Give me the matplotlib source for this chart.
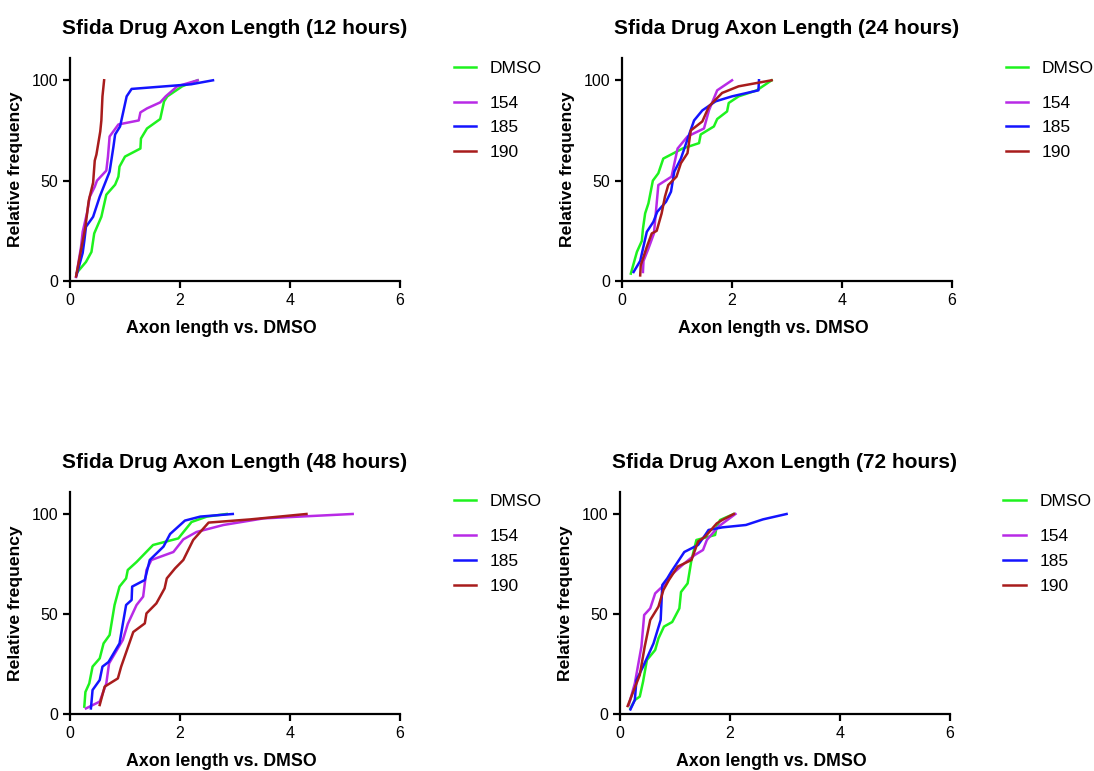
import matplotlib
matplotlib.use("Agg")
import matplotlib.pyplot as plt

plt.rcParams['font.family'] = ['Liberation Sans', 'DejaVu Sans']

titles = ["Sfida Drug Axon Length (12 hours)", "Sfida Drug Axon Length (24 hours)",
          "Sfida Drug Axon Length (48 hours)", "Sfida Drug Axon Length (72 hours)"]
names = ["DMSO", "154", "185", "190"]
colors = ["#1ef21e", "#b82ae6", "#1414ff", "#a81c1c"]

# 12 hours
x12_dmso = [0.12, 0.29, 0.39, 0.44, 0.57, 0.66, 0.82, 0.88, 0.90, 1.00, 1.28, 1.29, 1.40, 1.64, 1.71, 1.77, 2.04, 2.32]
y12_dmso = [4, 9.5, 14.5, 23.7, 32, 43, 48, 52, 57, 62, 66, 71, 76, 80.7, 89.5, 92, 97, 100]
x12_154 = [0.11, 0.20, 0.23, 0.31, 0.36, 0.45, 0.49, 0.66, 0.69, 0.72, 0.88, 1.25, 1.28, 1.40, 1.64, 1.74, 1.95, 2.32]
y12_154 = [2, 17, 24.5, 34, 42, 47, 50, 55, 62, 72, 78, 80, 84, 86, 89, 92, 97, 100]
x12_185 = [0.12, 0.23, 0.26, 0.29, 0.42, 0.54, 0.72, 0.79, 0.82, 0.91, 1.03, 1.12, 2.20, 2.60]
y12_185 = [3, 14, 20, 27, 32, 42, 54.5, 67, 73, 77, 92, 95.7, 98, 100]
x12_190 = [0.11, 0.28, 0.34, 0.42, 0.45, 0.48, 0.55, 0.57, 0.59, 0.62]
y12_190 = [2.3, 27, 40, 49, 60, 63, 74.5, 80, 92, 100]

# 24 hours
x24_dmso = [0.16, 0.27, 0.36, 0.38, 0.42, 0.48, 0.56, 0.66, 0.75, 1.10, 1.40, 1.43, 1.67, 1.73, 1.91, 1.94, 2.12, 2.45, 2.72]
y24_dmso = [3.7, 14.5, 20, 26, 33.7, 38.7, 50, 53.7, 61, 66, 68.7, 73, 77, 80.7, 84.5, 88.7, 92, 95, 100]
x24_154 = [0.38, 0.39, 0.48, 0.58, 0.66, 0.90, 1.01, 1.19, 1.49, 1.58, 1.73, 2.00]
y24_154 = [4.5, 10, 16.2, 23.7, 47.8, 52, 66, 72, 76, 85, 95, 100]
x24_185 = [0.21, 0.33, 0.45, 0.57, 0.64, 0.80, 0.89, 0.95, 1.07, 1.22, 1.31, 1.46, 1.70, 2.00, 2.48, 2.49]
y24_185 = [4.5, 10, 24.5, 29.5, 34.5, 39.5, 44.5, 54.5, 61, 73, 80, 85, 89.5, 92, 95, 100]
x24_190 = [0.33, 0.34, 0.45, 0.54, 0.63, 0.72, 0.78, 0.84, 0.99, 1.07, 1.19, 1.25, 1.46, 1.58, 1.82, 2.12, 2.72]
y24_190 = [2.8, 7.8, 17, 23.7, 25, 33.7, 42, 47.8, 52, 58.7, 63.7, 75, 79.5, 87, 93.7, 97, 100]

# 48 hours
x48_dmso = [0.26, 0.28, 0.35, 0.41, 0.54, 0.61, 0.72, 0.81, 0.90, 1.02, 1.05, 1.21, 1.51, 1.97, 2.21, 2.49, 2.85]
y48_dmso = [3.7, 11, 15.3, 23.7, 27.8, 35.3, 39.5, 54.5, 63.7, 67.8, 72, 76, 84.5, 87.8, 96, 98.7, 100]
x48_154 = [0.29, 0.54, 0.66, 0.71, 0.87, 0.96, 1.05, 1.21, 1.33, 1.39, 1.48, 1.88, 2.06, 2.30, 2.79, 3.52, 5.14]
y48_154 = [2.8, 6.2, 15.3, 25.3, 32.8, 37, 45, 54.5, 58.7, 72, 77, 81, 87.3, 91, 94.5, 97.8, 100]
x48_185 = [0.38, 0.41, 0.54, 0.59, 0.70, 0.90, 0.96, 1.02, 1.12, 1.13, 1.36, 1.45, 1.70, 1.82, 2.09, 2.37, 2.96]
y48_185 = [2.8, 12, 17, 23.7, 26, 35.3, 45, 54.5, 57, 63.7, 67, 77, 83.7, 90, 96.7, 98.7, 100]
x48_190 = [0.54, 0.63, 0.87, 0.93, 1.15, 1.36, 1.39, 1.57, 1.72, 1.76, 1.91, 2.06, 2.24, 2.52, 3.28, 4.30]
y48_190 = [4.5, 13.7, 17.8, 23.7, 41, 45.3, 50.3, 55.3, 62.8, 67.8, 72.8, 77, 87, 95.7, 97.3, 100]

# 72 hours
x72_dmso = [0.19, 0.27, 0.36, 0.42, 0.49, 0.64, 0.70, 0.80, 0.95, 1.08, 1.11, 1.23, 1.30, 1.39, 1.73, 1.76, 1.82, 2.07]
y72_dmso = [2.8, 7, 8.7, 16.2, 27, 32, 37.8, 43.7, 46, 52.8, 61, 65.3, 77, 87, 89.5, 93.7, 97, 100]
x72_154 = [0.16, 0.27, 0.39, 0.44, 0.55, 0.64, 0.80, 0.93, 1.17, 1.36, 1.51, 1.58, 1.79, 2.10]
y72_154 = [4.5, 15.3, 33.7, 49.5, 52.8, 60.3, 64.5, 69.5, 75.3, 79.5, 82, 87, 93.7, 100]
x72_185 = [0.19, 0.27, 0.30, 0.42, 0.61, 0.74, 0.77, 0.86, 0.93, 1.17, 1.42, 1.55, 1.61, 1.86, 2.29, 2.60, 3.03]
y72_185 = [2.3, 7, 17, 23.7, 35.3, 47, 64.5, 67.8, 71, 81, 84.5, 89.5, 92, 93.3, 94.5, 97.3, 100]
x72_190 = [0.14, 0.36, 0.45, 0.55, 0.70, 0.79, 0.89, 1.05, 1.30, 1.42, 1.55, 1.76, 1.86, 2.07]
y72_190 = [4, 19.5, 33.7, 47, 53.7, 62, 67, 73.7, 77, 86.2, 88.7, 95.3, 97, 100]

panels = [
    [(x12_dmso, y12_dmso), (x12_154, y12_154), (x12_185, y12_185), (x12_190, y12_190)],
    [(x24_dmso, y24_dmso), (x24_154, y24_154), (x24_185, y24_185), (x24_190, y24_190)],
    [(x48_dmso, y48_dmso), (x48_154, y48_154), (x48_185, y48_185), (x48_190, y48_190)],
    [(x72_dmso, y72_dmso), (x72_154, y72_154), (x72_185, y72_185), (x72_190, y72_190)],
]

fig = plt.figure(figsize=(10.94, 7.71), dpi=100)
rects = [[0.064, 0.6355, 0.3016, 0.289], [0.5686, 0.6355, 0.3016, 0.289],
         [0.064, 0.0739, 0.3016, 0.288], [0.5667, 0.0739, 0.3016, 0.288]]

leg_kw = dict(loc='upper left', frameon=False, fontsize=12.5, handlelength=1.3,
              handletextpad=0.8, labelspacing=0.55)

for i in range(4):
    ax = fig.add_axes(rects[i])
    lines = []
    for j in range(4):
        xs, ys = panels[i][j]
        ln, = ax.plot(xs, ys, color=colors[j], lw=1.8, label=names[j], zorder=3 + j)
        lines.append(ln)
    ax.set_xlim(0, 6)
    ax.set_ylim(0, 111)
    ax.set_xticks([0, 2, 4, 6])
    ax.set_yticks([0, 50, 100])
    for s in ['top', 'right']:
        ax.spines[s].set_visible(False)
    for s in ['left', 'bottom']:
        ax.spines[s].set_linewidth(1.6)
    ax.tick_params(direction='out', length=5, width=1.6, labelsize=11.5)
    ax.set_title(titles[i], fontsize=15, fontweight='bold', pad=17.5)
    ax.set_xlabel("Axon length vs. DMSO", fontsize=12.8, fontweight='bold', labelpad=9)
    ax.xaxis.label.set_x(0.458)
    ax.set_ylabel("Relative frequency", fontsize=12.6, fontweight='bold', labelpad=6)
    # DMSO sits a little apart from the drug entries
    leg1 = ax.legend(handles=lines[:1], bbox_to_anchor=(1.115, 1.06), **leg_kw)
    ax.add_artist(leg1)
    ax.legend(handles=lines[1:], bbox_to_anchor=(1.115, 0.903), **leg_kw)

fig.savefig("out.png", dpi=100)
